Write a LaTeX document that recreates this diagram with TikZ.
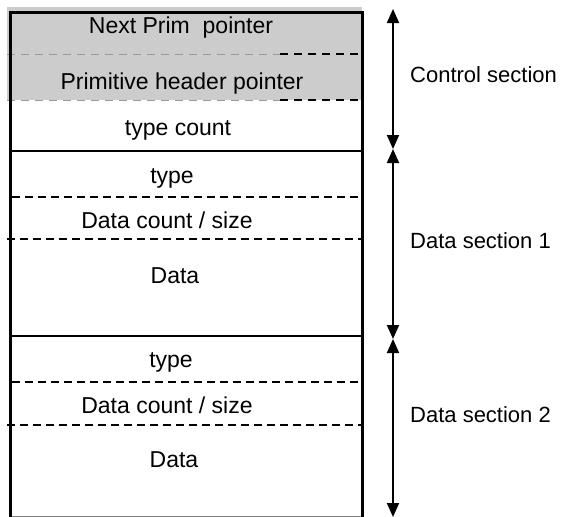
\documentclass[tikz,border=0pt]{standalone}
\usepackage{fontspec}
\setmainfont{Liberation Sans}
\usepackage{tikz}
\usetikzlibrary{positioning,arrows.meta,calc}
\usepackage{xcolor}
\definecolor{ctrlfill}{HTML}{CCCCCC}
\definecolor{ctrldash}{HTML}{999999}
\definecolor{baseline}{HTML}{808080}
\tikzset{
  field/.style={anchor=base, inner sep=0pt, font=\fontsize{23}{27}\selectfont},
  seclabel/.style={anchor=base west, inner sep=0pt, font=\fontsize{22}{26}\selectfont},
  sepline/.style={line width=2pt},
  fielddash/.style={line width=2pt, dash pattern=on 8pt off 5pt},
  ctrlline/.style={line width=1pt, draw=ctrldash, dash pattern=on 8pt off 6pt},
  ctrlend/.style={line width=1.2pt, dash pattern=on 8pt off 6pt},
  secarrow/.style={line width=2pt, {Triangle[width=12pt,length=14pt]}-{Triangle[width=12pt,length=14pt]}},
}

\begin{document}
\begin{tikzpicture}[x=1pt, y=-1pt]
\useasboundingbox (0,0) rectangle (566,517);

% control section, shaded part
\fill[ctrlfill] (7,7) rectangle (362,100);
\draw[ctrlline] (7,54) -- (280,54);
\draw[ctrlend] (280,54) -- (362,54);
\draw[ctrlline] (7,100) -- (280,100);
\draw[ctrlend] (280,100) -- (362,100);

% frame
\draw[line width=1pt, draw=baseline] (10,516) -- (362,516);
\draw[line width=3pt] (10.5,517) -- (10.5,12) -- (362,12) -- (362,517);
\draw[sepline] (10,151) -- (362,151);
\draw[sepline] (10,336) -- (362,336);
\draw[fielddash] (12,197) -- (362,197);
\draw[fielddash] (7,239) -- (362,239);
\draw[fielddash] (12,382) -- (362,382);
\draw[fielddash] (7,425) -- (362,425);

% fields
\node[field] (nextp) at (181,33) {Next Prim\ \ pointer};
\node[field] (hdrp) at (182,89) {Primitive header pointer};
\node[field] (tcount) at (178,135) {type count};
\node[field] (typea) at (172,183) {type};
\node[field] (counta) at (167,228) {Data count / size};
\node[field] (dataa) at (175,283) {Data};
\node[field] (typeb) at (171,367) {type};
\node[field] (countb) at (167,413) {Data count / size};
\node[field] (datab) at (174,467) {Data};

% section extents
\coordinate (ctrltop) at (393,9);
\coordinate (ctrlbot) at (393,149);
\coordinate (dataatop) at (393,149);
\coordinate (dataabot) at (393,339);
\coordinate (databtop) at (393,339);
\coordinate (databbot) at (393,517);
\draw[secarrow] (ctrltop) -- (ctrlbot);
\draw[secarrow] (dataatop) -- (dataabot);
\draw[secarrow] (databtop) -- (databbot);

\node[seclabel] (ctrllbl) at (410,82) {Control section};
\node[seclabel] (dataalbl) at (410,248) {Data section 1};
\node[seclabel] (datablbl) at (410,422) {Data section 2};
\end{tikzpicture}
\end{document}
